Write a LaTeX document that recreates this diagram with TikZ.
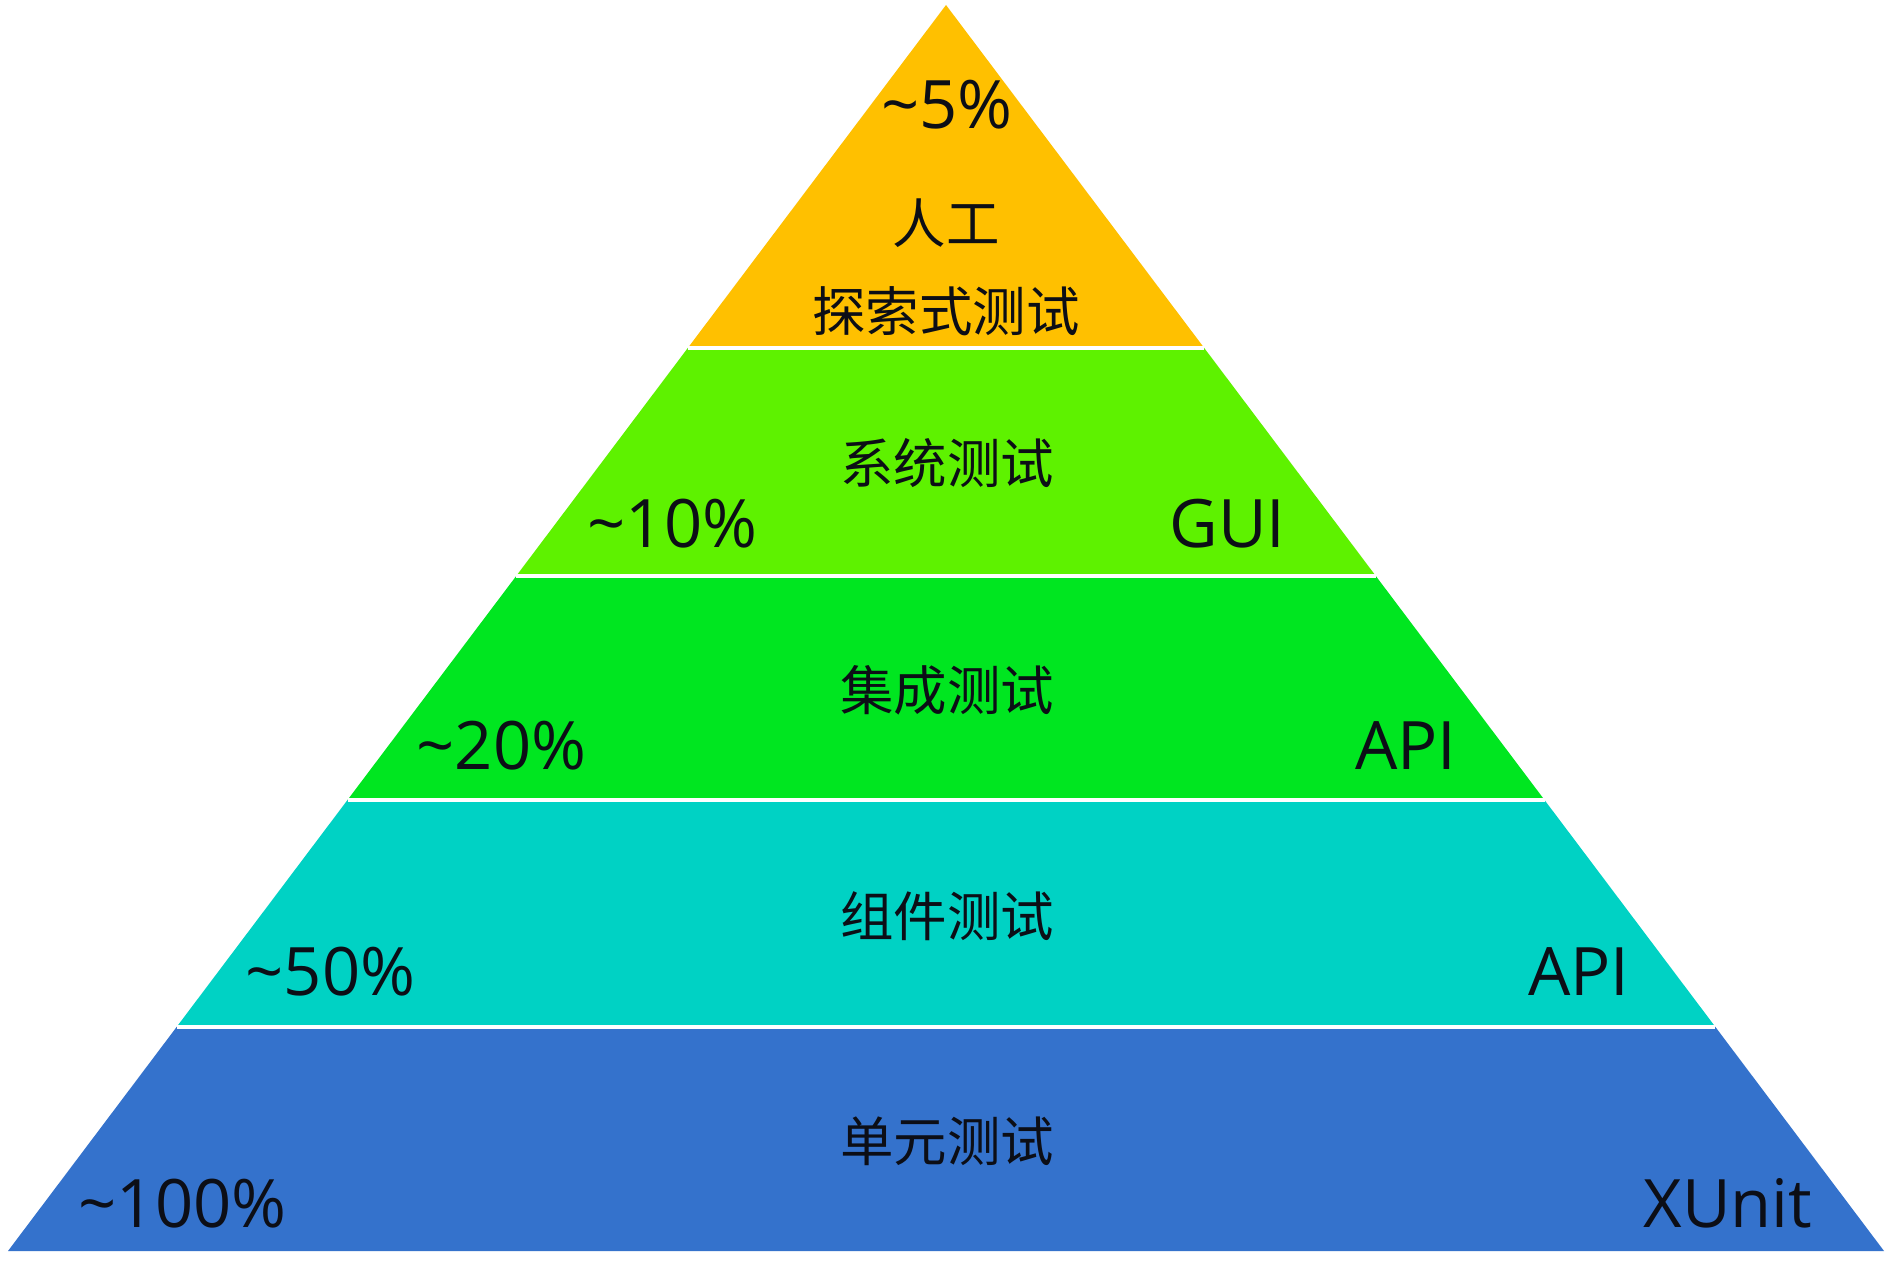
\documentclass[tikz,border=0pt]{standalone}
\usepackage{fontspec}
\setmainfont{Open Sans}
\newfontfamily\cjk{Noto Sans CJK SC}
\definecolor{cOrange}{RGB}{255,192,0}
\definecolor{cLime}{RGB}{94,242,0}
\definecolor{cGreen}{RGB}{0,230,32}
\definecolor{cCyan}{RGB}{0,210,196}
\definecolor{cBlue}{RGB}{52,114,204}
\definecolor{cText}{RGB}{12,14,22}
\tikzset{
  band/.style={draw=none},
  sep/.style={draw=white, line width=0.9pt},
  zh/.style={font=\cjk\fontsize{15.2}{18}\selectfont, text=cText, inner sep=0pt, anchor=center},
  pct/.style={font=\fontsize{19}{22}\selectfont, text=cText, inner sep=0pt, anchor=base west},
  tool/.style={font=\fontsize{19}{22}\selectfont, text=cText, inner sep=0pt, anchor=base east},
}
\begin{document}
\begin{tikzpicture}[x=0.01cm,y=-0.01cm]
\useasboundingbox (0,0) rectangle (1892,1280);
\fill[white] (0,0) rectangle (1892,1280);
% corner coordinates
\coordinate (apex) at (946,5);
\coordinate (L1) at (687.8,348);  \coordinate (R1) at (1204.2,348);
\coordinate (L2) at (516.2,576);  \coordinate (R2) at (1375.8,576);
\coordinate (L3) at (347.5,800);  \coordinate (R3) at (1544.5,800);
\coordinate (L4) at (176.6,1027); \coordinate (R4) at (1715.4,1027);
\coordinate (L5) at (8,1251);     \coordinate (R5) at (1884,1251);
% bands
\fill[band, cOrange] (apex) -- (R1) -- (L1) -- cycle;
\fill[band, cLime]  (L1) -- (R1) -- (R2) -- (L2) -- cycle;
\fill[band, cGreen] (L2) -- (R2) -- (R3) -- (L3) -- cycle;
\fill[band, cCyan]  (L3) -- (R3) -- (R4) -- (L4) -- cycle;
\fill[band, cBlue]  (L4) -- (R4) -- (R5) -- (L5) -- cycle;
% separators
\draw[sep] (L1) -- (R1);
\draw[sep] (L2) -- (R2);
\draw[sep] (L3) -- (R3);
\draw[sep] (L4) -- (R4);
% texts
\node[pct, anchor=base] (p5) at (947,129) {\char"7E 5\%};
\node[zh] (t1) at (946,223) {人工};
\node[zh] (t2) at (946,311) {探索式测试};
\node[zh] (t3) at (947,463) {系统测试};
\node[pct] (p10) at (587,548) {\char"7E 10\%};
\node[tool] (g1) at (1286,548) {GUI};
\node[zh] (t4) at (947,690) {集成测试};
\node[pct] (p20) at (416,770) {\char"7E 20\%};
\node[tool] (g2) at (1457,770) {API};
\node[zh] (t5) at (947,916) {组件测试};
\node[pct] (p50) at (245,995) {\char"7E 50\%};
\node[tool] (g3) at (1630,995) {API};
\node[zh] (t6) at (947,1141) {单元测试};
\node[pct] (p100) at (78,1227) {\char"7E 100\%};
\node[tool] (g4) at (1813,1227) {XUnit};
\end{tikzpicture}
\end{document}
